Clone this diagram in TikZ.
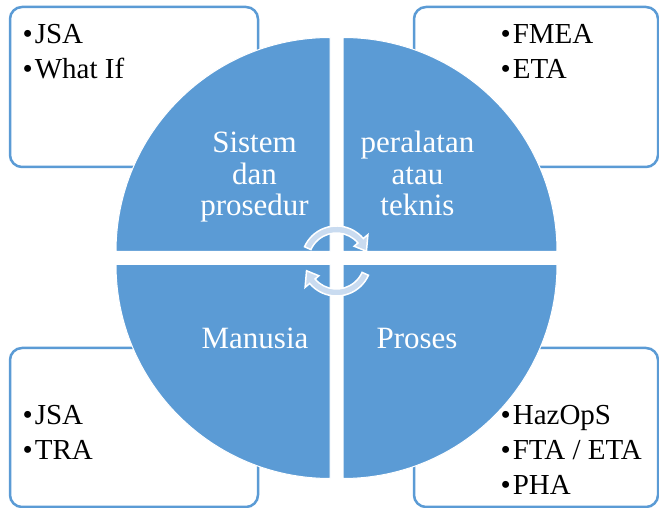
\documentclass[tikz,border=0pt]{standalone}
\usepackage{fontspec}
\setmainfont{Liberation Serif}
\usetikzlibrary{positioning}
\definecolor{QuadBlue}{HTML}{5B9BD5}
\definecolor{ArrowBlue}{HTML}{C9DBF0}

\begin{document}
\begin{tikzpicture}[x=1pt, y=1pt,
  listbox/.style={draw=QuadBlue, line width=2.5pt, rounded corners=12pt, fill=white, minimum height=160pt},
  item/.style={anchor=base west, inner sep=0pt, font=\fontsize{29}{35}\selectfont},
  quad/.style={fill=QuadBlue, draw=white, line width=1pt},
  quadtext/.style={anchor=base, inner sep=0pt, text=white, font=\fontsize{31}{31.5}\selectfont},
  cyclearrow/.style={fill=ArrowBlue, draw=white, line width=1.5pt}]
\useasboundingbox (0,0) rectangle (659,508);
% tool boxes behind the circle
\node[listbox, minimum width=248pt] (tlbox) at (134,421) {};
\node[listbox, minimum width=244pt] (trbox) at (536,421) {};
\node[listbox, minimum width=248pt, minimum height=159pt] (blbox) at (134,80.5) {};
\node[listbox, minimum width=244pt, minimum height=159pt] (brbox) at (536,80.5) {};
\foreach \t [count=\i] in {JSA, What If}
  \node[item] (tl\i) at (22.5,{499-35*\i}) {\textbullet\kern2pt\t};
\foreach \t [count=\i] in {FMEA, ETA}
  \node[item] (tr\i) at (500.5,{499-35*\i}) {\textbullet\kern2pt\t};
\foreach \t [count=\i] in {JSA, TRA}
  \node[item] (bl\i) at (22.5,{118-35*\i}) {\textbullet\kern2pt\t};
\foreach \t [count=\i] in {HazOpS, FTA / ETA, PHA}
  \node[item] (br\i) at (500.5,{118-35*\i}) {\textbullet\kern2pt\t};
% the four quadrants
\draw[quad] (330,256.5) -- ++(-214,0) arc[start angle=180, end angle=90, radius=214] -- cycle;
\draw[quad] (343,256.5) -- ++(0,214) arc[start angle=90, end angle=0, radius=214] -- cycle;
\draw[quad] (330,243.5) -- ++(0,-214) arc[start angle=270, end angle=180, radius=214] -- cycle;
\draw[quad] (343,243.5) -- ++(214,0) arc[start angle=0, end angle=-90, radius=214] -- cycle;
\foreach \t [count=\i] in {Sistem, dan, prosedur}
  \node[quadtext] (sp\i) at (254.5,{386.5-31.5*\i}) {\t};
\foreach \t [count=\i] in {peralatan, atau, teknis}
  \node[quadtext] (pt\i) at (417.5,{386.5-31.5*\i}) {\t};
\node[quadtext] (man) at (255,159) {Manusia};
\node[quadtext] (pro) at (417,159) {Proses};
% cycle arrows in the middle
\coordinate (hub) at (336.5,247);
\begin{scope}[shift={(hub)}]
\draw[cyclearrow] (156:35) arc[start angle=156, end angle=40, radius=35] -- (40:41) -- (18:31.5)
  -- (40:23) -- (40:28) arc[start angle=40, end angle=156, radius=28] -- cycle;
\draw[cyclearrow] (-24:35) arc[start angle=-24, end angle=-140, radius=35] -- (-140:41) -- (-162:31.5)
  -- (-140:23) -- (-140:28) arc[start angle=-140, end angle=-24, radius=28] -- cycle;
\end{scope}
\end{tikzpicture}
\end{document}
